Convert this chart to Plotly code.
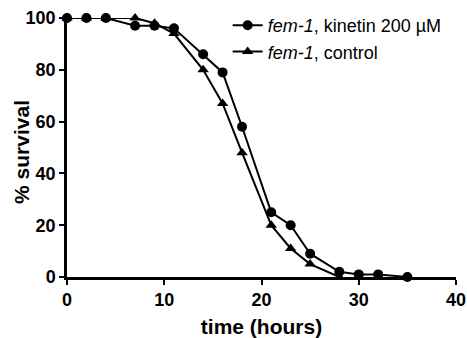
import plotly.graph_objects as go

kin_x = [0, 2, 4, 7, 9, 11, 14, 16, 18, 21, 23, 25, 28, 30, 32, 35]
kin_y = [100, 100, 100, 97, 97, 96, 86, 79, 58, 25, 20, 9, 2, 1, 1, 0]
ctl_x = [0, 2, 4, 7, 9, 11, 14, 16, 18, 21, 23, 25, 28]
ctl_y = [100, 100, 100, 100, 98, 94, 80, 67, 48, 20, 11, 5, 0]

fig = go.Figure()
fig.add_trace(go.Scatter(x=kin_x, y=kin_y, mode="lines+markers",
                         name="<i>fem-1</i>, kinetin 200 µM",
                         line=dict(color="black", width=2),
                         marker=dict(symbol="circle", size=10, color="black"),
                         cliponaxis=False))
fig.add_trace(go.Scatter(x=ctl_x, y=ctl_y, mode="lines+markers",
                         name="<i>fem-1</i>, control",
                         line=dict(color="black", width=2),
                         marker=dict(symbol="triangle-up", size=10, color="black"),
                         cliponaxis=False))

font_family = "Liberation Sans, Arial"
axis_common = dict(showline=True, linecolor="black", linewidth=2.5, ticks="outside",
                   ticklen=5, tickwidth=2, tickcolor="black", showgrid=False, zeroline=False,
                   automargin=False,
                   tickfont=dict(family=font_family, size=18, color="black", weight="bold"),
                   title_font=dict(family=font_family, size=21, color="black", weight="bold"))
fig.update_xaxes(range=[0, 40], tickvals=[0, 10, 20, 30, 40], title_text="time (hours)", **axis_common)
fig.update_yaxes(range=[0, 100], tickvals=[0, 20, 40, 60, 80, 100],
                 domain=[0, 259 / 277], **axis_common)

fig.add_annotation(text="% survival", textangle=-90, xref="paper", yref="y domain",
                   x=0, y=0.483, xanchor="center", yanchor="middle", xshift=-45,
                   showarrow=False,
                   font=dict(family=font_family, size=21, color="black", weight="bold"))

fig.update_layout(width=467, height=338, margin=dict(l=67, r=11, t=0, b=61),
                  plot_bgcolor="white", paper_bgcolor="white",
                  legend=dict(x=0.413, y=1 - 7 / 277, xanchor="left", yanchor="top",
                              font=dict(family=font_family, size=18, color="black"),
                              bgcolor="rgba(0,0,0,0)", itemwidth=30))
fig.write_html("out.html", config={"displayModeBar": False},
               post_script="document.body.style.margin='0';")
